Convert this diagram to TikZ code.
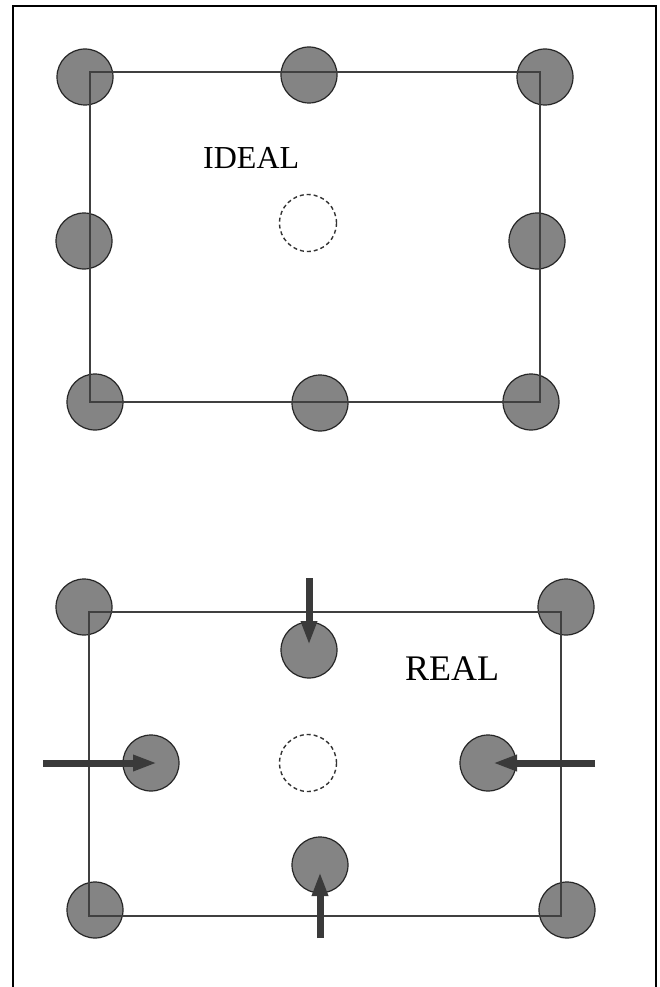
\documentclass[tikz,border=0pt]{standalone}
\usepackage{fontspec}
\setmainfont{Liberation Serif}
\usetikzlibrary{arrows.meta}
\definecolor{atomgray}{RGB}{132,132,132}
\definecolor{pushgray}{RGB}{58,58,58}
\begin{document}
\begin{tikzpicture}[x=1pt,y=-1pt,
  atom/.style={circle,draw=black!85,line width=1.2pt,fill=atomgray,minimum size=56pt,inner sep=0pt},
  vacancy/.style={circle,draw=black!80,dash pattern=on 4pt off 3pt,line width=1.4pt,minimum size=57pt,inner sep=0pt},
  cell/.style={draw=black!75,line width=1.2pt},
  push/.style={draw=pushgray,line width=7pt,-{Triangle[length=24pt,width=15pt]}},
  caption/.style={anchor=base west,inner sep=0pt}]
\useasboundingbox (0,0) rectangle (659,987);
\fill[white] (0,0) rectangle (659,987);

% outer frame, open at the bottom
\draw[line width=1.6pt] (13,987) -- (13,6) -- (656,6) -- (656,987);

% ---------- ideal lattice ----------
\node[atom] (i1) at (85,77) {};
\node[atom] (i2) at (309,75) {};
\node[atom] (i3) at (545,77) {};
\node[atom] (i4) at (84,241) {};
\node[atom] (i5) at (537,241) {};
\node[atom] (i6) at (95,402) {};
\node[atom] (i7) at (320,403) {};
\node[atom] (i8) at (531,402) {};
\node[vacancy] (iv) at (308,223) {};
\coordinate (ia) at (90,72);
\coordinate (ib) at (540,72);
\coordinate (ic) at (540,402);
\coordinate (id) at (90,402);
\draw[cell] (ia) -- (ib) -- (ic) -- (id) -- cycle;
\node[caption,font=\fontsize{32}{32}\selectfont] (ideal) at (203,168) {IDEAL};

% ---------- real (relaxed) lattice ----------
\node[atom] (r1) at (84,607) {};
\node[atom] (r2) at (309,650) {};
\node[atom] (r3) at (566,607) {};
\node[atom] (r4) at (151,763) {};
\node[atom] (r5) at (488,763) {};
\node[atom] (r6) at (95,910) {};
\node[atom] (r7) at (320,865) {};
\node[atom] (r8) at (567,910) {};
\node[vacancy] (rv) at (308,763) {};
\coordinate (ra) at (89,612);
\coordinate (rb) at (561,612);
\coordinate (rc) at (561,916);
\coordinate (rd) at (89,916);
\draw[cell] (rb) -- (ra) -- (rd) -- (rc) -- cycle;
\node[caption,font=\fontsize{36}{36}\selectfont] (real) at (405,680) {REAL};

% displacement arrows: tail and tip points
\coordinate (p2) at (309,578);  \coordinate (t2) at (309,645);
\coordinate (p4) at (43,763);   \coordinate (t4) at (157,763);
\coordinate (p5) at (595,763);  \coordinate (t5) at (493,763);
\coordinate (p7) at (320,938);  \coordinate (t7) at (320,872);
\draw[push] (p2) -- (t2);
\draw[push] (p4) -- (t4);
\draw[push] (p5) -- (t5);
\draw[push] (p7) -- (t7);
\end{tikzpicture}
\end{document}
